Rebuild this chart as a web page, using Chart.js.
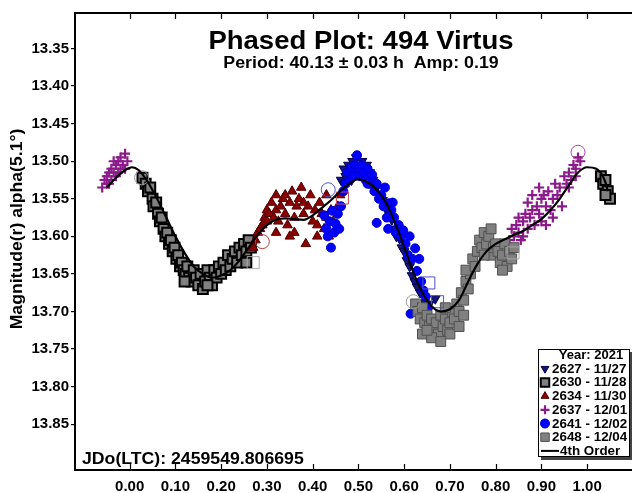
<!DOCTYPE html>
<html><head><meta charset="utf-8">
<script src="https://cdn.jsdelivr.net/npm/chart.js@4.4.1/dist/chart.umd.min.js"></script>
<style>html,body{margin:0;padding:0;background:#fff}canvas{display:block}</style>
</head><body>
<canvas id="c" width="632" height="493"></canvas>
<script>
// ---------- text ----------
const titleText = 'Phased Plot: 494 Virtus';
const subtitleText = 'Period: 40.13 \u00b1 0.03 h  Amp: 0.19';
const epochText = 'JDo(LTC): 2459549.806695';
const yAxisTitle = 'Magnitude(r) alpha(5.1\u00b0)';
const legendTitle = 'Year: 2021';
const seriesNames = ['2627 - 11/27','2630 - 11/28','2634 - 11/30','2637 - 12/01','2641 - 12/02','2648 - 12/04'];
const fitName = '4th Order';
const xTickLabels = ['0.00','0.10','0.20','0.30','0.40','0.50','0.60','0.70','0.80','0.90','1.00'];
const yTickLabels = ['13.35','13.40','13.45','13.50','13.55','13.60','13.65','13.70','13.75','13.80','13.85'];

// ---------- data: [phase, magnitude] ----------
const s2627 = [[0.462,13.525],[0.468,13.51],[0.472,13.52],[0.478,13.505],[0.482,13.515],[0.487,13.5],[0.49,13.512],[0.495,13.495],[0.5,13.505],[0.503,13.515],[0.508,13.5],[0.512,13.51],[0.518,13.505],[0.525,13.515],[0.532,13.525],[0.54,13.535],[0.547,13.545],[0.553,13.552],[0.56,13.563],[0.567,13.57],[0.573,13.578],[0.578,13.59],[0.583,13.6],[0.59,13.603],[0.595,13.615],[0.6,13.62],[0.606,13.632],[0.612,13.64],[0.617,13.652],[0.623,13.66],[0.628,13.667],[0.635,13.675],[0.645,13.688],[0.655,13.69],[0.668,13.683],[0.65,13.728],[0.47,13.53],[0.485,13.525]];
const s2630 = [[0.028,13.522],[0.035,13.53],[0.04,13.54],[0.045,13.535],[0.05,13.55],[0.052,13.56],[0.058,13.555],[0.062,13.57],[0.066,13.58],[0.07,13.575],[0.074,13.59],[0.078,13.6],[0.082,13.595],[0.086,13.61],[0.09,13.605],[0.094,13.62],[0.098,13.615],[0.102,13.63],[0.106,13.625],[0.11,13.64],[0.114,13.635],[0.118,13.645],[0.122,13.65],[0.126,13.64],[0.13,13.655],[0.135,13.66],[0.14,13.645],[0.145,13.655],[0.15,13.665],[0.155,13.65],[0.16,13.67],[0.165,13.66],[0.17,13.645],[0.175,13.655],[0.18,13.665],[0.185,13.645],[0.19,13.655],[0.195,13.64],[0.2,13.65],[0.205,13.635],[0.21,13.645],[0.215,13.625],[0.22,13.64],[0.225,13.63],[0.23,13.62],[0.235,13.635],[0.24,13.615],[0.245,13.625],[0.25,13.61],[0.255,13.62],[0.26,13.605],[0.265,13.615],[0.12,13.66],[0.17,13.665],[0.255,13.635],[1.03,13.52],[1.035,13.53],[1.04,13.525],[1.045,13.54],[1.05,13.55],[1.04,13.545]];
const s2634 = [[0.275,13.605],[0.28,13.595],[0.285,13.59],[0.29,13.585],[0.295,13.575],[0.3,13.58],[0.3,13.565],[0.305,13.57],[0.31,13.555],[0.315,13.575],[0.32,13.565],[0.32,13.545],[0.325,13.58],[0.33,13.56],[0.335,13.55],[0.34,13.57],[0.34,13.545],[0.345,13.585],[0.35,13.555],[0.355,13.54],[0.36,13.575],[0.36,13.595],[0.365,13.56],[0.37,13.55],[0.375,13.535],[0.38,13.57],[0.385,13.61],[0.39,13.56],[0.395,13.545],[0.4,13.58],[0.405,13.565],[0.41,13.6],[0.41,13.585],[0.415,13.555],[0.42,13.57],[0.425,13.59],[0.43,13.545],[0.43,13.575],[0.435,13.6],[0.44,13.565],[0.445,13.58],[0.45,13.59],[0.455,13.56],[0.46,13.545],[0.38,13.555],[0.35,13.6],[0.32,13.595],[0.27,13.615]];
const s2637 = [[-0.06,13.535],[-0.055,13.525],[-0.05,13.53],[-0.05,13.52],[-0.045,13.515],[-0.04,13.525],[-0.04,13.51],[-0.035,13.515],[-0.03,13.505],[-0.03,13.52],[-0.025,13.5],[-0.02,13.51],[-0.02,13.495],[-0.015,13.505],[-0.01,13.49],[-0.01,13.51],[-0.005,13.5],[-0.045,13.53],[-0.035,13.5],[-0.025,13.515],[0.83,13.605],[0.835,13.59],[0.84,13.6],[0.845,13.585],[0.85,13.595],[0.85,13.575],[0.855,13.605],[0.86,13.58],[0.865,13.57],[0.87,13.59],[0.87,13.555],[0.875,13.575],[0.88,13.565],[0.88,13.545],[0.885,13.585],[0.89,13.56],[0.895,13.57],[0.9,13.55],[0.9,13.58],[0.905,13.545],[0.91,13.56],[0.915,13.54],[0.92,13.565],[0.925,13.55],[0.93,13.53],[0.935,13.545],[0.94,13.535],[0.945,13.56],[0.95,13.52],[0.955,13.53],[0.96,13.515],[0.965,13.525],[0.97,13.505],[0.975,13.51],[0.98,13.495],[0.985,13.5],[0.975,13.52],[0.96,13.535],[0.91,13.585],[0.86,13.6],[0.895,13.535],[0.925,13.575]];
const s2641 = [[0.425,13.572],[0.43,13.59],[0.433,13.6],[0.437,13.58],[0.44,13.615],[0.443,13.566],[0.447,13.595],[0.45,13.583],[0.455,13.57],[0.458,13.59],[0.462,13.56],[0.467,13.54],[0.472,13.53],[0.476,13.515],[0.48,13.525],[0.484,13.508],[0.488,13.52],[0.492,13.505],[0.497,13.492],[0.5,13.51],[0.504,13.52],[0.508,13.505],[0.512,13.515],[0.516,13.525],[0.52,13.51],[0.525,13.53],[0.53,13.518],[0.535,13.54],[0.54,13.53],[0.545,13.55],[0.55,13.545],[0.555,13.56],[0.558,13.535],[0.562,13.575],[0.567,13.556],[0.54,13.582],[0.572,13.565],[0.578,13.575],[0.582,13.595],[0.588,13.585],[0.593,13.6],[0.598,13.592],[0.603,13.61],[0.608,13.625],[0.612,13.6],[0.618,13.63],[0.624,13.616],[0.628,13.646],[0.633,13.63],[0.637,13.66],[0.642,13.672],[0.647,13.68],[0.652,13.695],[0.614,13.703],[0.565,13.59],[0.52,13.53],[0.575,13.555]];
const s2648 = [[0.625,13.69],[0.63,13.7],[0.635,13.71],[0.64,13.695],[0.645,13.715],[0.65,13.705],[0.655,13.72],[0.66,13.71],[0.665,13.725],[0.67,13.715],[0.675,13.73],[0.68,13.705],[0.685,13.72],[0.69,13.71],[0.695,13.725],[0.7,13.715],[0.705,13.7],[0.71,13.71],[0.715,13.69],[0.72,13.7],[0.725,13.675],[0.73,13.685],[0.735,13.66],[0.74,13.67],[0.745,13.65],[0.735,13.645],[0.75,13.63],[0.755,13.64],[0.76,13.62],[0.765,13.605],[0.77,13.615],[0.775,13.595],[0.78,13.61],[0.785,13.6],[0.79,13.625],[0.795,13.615],[0.8,13.61],[0.805,13.62],[0.81,13.635],[0.815,13.625],[0.82,13.61],[0.825,13.64],[0.83,13.62],[0.835,13.63],[0.84,13.615],[0.64,13.73],[0.66,13.735],[0.69,13.695],[0.7,13.73],[0.72,13.72],[0.73,13.705],[0.68,13.74],[0.65,13.725],[0.775,13.625],[0.79,13.59],[0.815,13.645]];
const fitCurve = [[-0.05,13.535],[-0.03,13.522],[-0.01,13.512],[0.005,13.508],[0.02,13.512],[0.04,13.528],[0.06,13.55],[0.08,13.575],[0.1,13.6],[0.12,13.622],[0.14,13.64],[0.16,13.65],[0.18,13.655],[0.2,13.652],[0.22,13.645],[0.24,13.632],[0.26,13.615],[0.28,13.598],[0.3,13.585],[0.32,13.578],[0.34,13.576],[0.36,13.577],[0.38,13.578],[0.4,13.572],[0.42,13.562],[0.44,13.552],[0.46,13.54],[0.48,13.53],[0.5,13.524],[0.52,13.528],[0.54,13.538],[0.56,13.555],[0.58,13.582],[0.6,13.614],[0.62,13.648],[0.64,13.675],[0.66,13.693],[0.68,13.7],[0.7,13.697],[0.72,13.685],[0.74,13.66],[0.76,13.637],[0.78,13.62],[0.8,13.61],[0.82,13.604],[0.84,13.598],[0.86,13.593],[0.88,13.585],[0.9,13.577],[0.92,13.565],[0.94,13.55],[0.96,13.532],[0.98,13.515],[1.0,13.508],[1.02,13.51],[1.04,13.528],[1.045,13.54]];
const hollowCircles = [[0.026,13.522],[0.29,13.607],[0.434,13.538],[0.62,13.687],[0.98,13.488]];
const hollowSquares = [[0.27,13.635],[0.465,13.549],[0.654,13.662],[0.673,13.687],[0.838,13.622]];

const pts = a => a.map(p => ({x:p[0], y:p[1]}));
const FONT = '"Liberation Sans", Arial, sans-serif';

const styles = [
  {pointStyle:'triangle', rotation:180, backgroundColor:'#14147a', borderColor:'#000050', borderWidth:1, pointRadius:5.5},
  {pointStyle:'rect', rotation:0, backgroundColor:'#808080', borderColor:'#000000', borderWidth:2, pointRadius:7},
  {pointStyle:'triangle', rotation:0, backgroundColor:'#8b0000', borderColor:'#500000', borderWidth:1, pointRadius:5.5},
  {pointStyle:'cross', rotation:0, backgroundColor:'#8b1a8b', borderColor:'#8b1a8b', borderWidth:2.2, pointRadius:5},
  {pointStyle:'circle', rotation:0, backgroundColor:'#0000ff', borderColor:'#0000c8', borderWidth:1, pointRadius:4.5},
  {pointStyle:'rect', rotation:0, backgroundColor:'#808080', borderColor:'#505050', borderWidth:1, pointRadius:7}
];
const seriesData = [s2627, s2630, s2634, s2637, s2641, s2648];

const datasets = seriesData.map((d,i) => ({
  label: seriesNames[i], data: pts(d), showLine:false, order: 10 - i,
  pointStyle: styles[i].pointStyle, rotation: styles[i].rotation,
  backgroundColor: styles[i].backgroundColor, borderColor: styles[i].borderColor,
  borderWidth: styles[i].borderWidth, pointRadius: styles[i].pointRadius, pointHoverRadius: styles[i].pointRadius
}));
datasets.push({label:'hc', data:pts(hollowCircles), showLine:false, order:2, pointStyle:'circle', pointRadius:7,
  backgroundColor:'rgba(0,0,0,0)', borderColor:['#999999','#b04040','#5050d0','#999999','#b040b0'], borderWidth:1});
datasets.push({label:'hs', data:pts(hollowSquares), showLine:false, order:2, pointStyle:'rect', pointRadius:8.5,
  backgroundColor:'rgba(0,0,0,0)', borderColor:['#aaaaaa','#c05050','#5050d0','#5050d0','#aaaaaa'], borderWidth:1});
datasets.push({label: fitName, data: pts(fitCurve), showLine:true, order:0, borderColor:'#000', borderWidth:2.2,
  pointRadius:0, tension:0.4, cubicInterpolationMode:'monotone', fill:false});

function drawMarker(ctx, st, x, y, r) {
  ctx.save();
  ctx.fillStyle = st.backgroundColor; ctx.strokeStyle = st.borderColor; ctx.lineWidth = st.borderWidth;
  ctx.beginPath();
  if (st.pointStyle === 'circle') { ctx.arc(x, y, r, 0, Math.PI*2); ctx.fill(); ctx.stroke(); }
  else if (st.pointStyle === 'rect') { const s = r*Math.SQRT1_2; ctx.rect(x-s, y-s, 2*s, 2*s); ctx.fill(); ctx.stroke(); }
  else if (st.pointStyle === 'triangle') {
    const d = st.rotation ? 1 : -1;
    ctx.moveTo(x, y + d*r); ctx.lineTo(x - r*0.866, y - d*r*0.5); ctx.lineTo(x + r*0.866, y - d*r*0.5); ctx.closePath(); ctx.fill(); ctx.stroke();
  } else if (st.pointStyle === 'cross') { ctx.moveTo(x-r, y); ctx.lineTo(x+r, y); ctx.moveTo(x, y-r); ctx.lineTo(x, y+r); ctx.stroke(); }
  ctx.restore();
}

function stretchedText(ctx, text, x, y, sx) {
  ctx.save(); ctx.translate(x, y); ctx.scale(sx, 1); ctx.fillText(text, 0, 0); ctx.restore();
}

const overlay = {
  id: 'overlay',
  afterDraw(chart) {
    const {ctx, chartArea: a, scales: {x}} = chart;
    ctx.save();
    ctx.strokeStyle = '#000'; ctx.lineWidth = 2;
    ctx.beginPath();
    ctx.moveTo(a.right + 2, a.top); ctx.lineTo(a.left, a.top); ctx.lineTo(a.left, a.bottom); ctx.lineTo(a.right + 2, a.bottom);
    ctx.stroke();
    ctx.lineWidth = 1.2;
    x.ticks.forEach(t => {
      const px = Math.round(x.getPixelForValue(t.value)) + 0.5;
      ctx.beginPath();
      ctx.moveTo(px, a.bottom); ctx.lineTo(px, a.bottom - 6);
      ctx.moveTo(px, a.top); ctx.lineTo(px, a.top + 6);
      ctx.stroke();
    });
    ctx.fillStyle = '#000';
    const cx = 361;
    ctx.textAlign = 'center'; ctx.textBaseline = 'middle';
    ctx.font = 'bold 25px ' + FONT; stretchedText(ctx, titleText, cx, 42, 1.1);
    ctx.font = 'bold 16px ' + FONT; stretchedText(ctx, subtitleText, cx, 64, 1.11);
    ctx.textAlign = 'left';
    ctx.font = 'bold 17px ' + FONT; stretchedText(ctx, epochText, 82, 459, 1.04);
    ctx.save(); ctx.translate(18, 229); ctx.rotate(-Math.PI/2); ctx.scale(1.1, 1);
    ctx.textAlign = 'center'; ctx.font = 'bold 16px ' + FONT; ctx.fillText(yAxisTitle, 0, 0); ctx.restore();
    const L = 538, T = 349, R = 630, B = 457;
    ctx.fillStyle = '#444'; ctx.fillRect(L + 3, T + 3, R - L, B - T);
    ctx.fillStyle = '#fff'; ctx.fillRect(L, T, R - L, B - T);
    ctx.strokeStyle = '#000'; ctx.lineWidth = 1; ctx.strokeRect(L + 0.5, T + 0.5, R - L - 1, B - T - 1);
    ctx.fillStyle = '#000'; ctx.font = 'bold 13px ' + FONT;
    ctx.textAlign = 'center'; ctx.fillText(legendTitle, 591, 355);
    ctx.textAlign = 'left';
    const rowH = 13.7;
    seriesNames.forEach((n, i) => {
      const yy = 355 + rowH * (i + 1);
      const st = styles[i];
      drawMarker(ctx, st, 545, yy, st.pointStyle === 'rect' ? 6 : 4.5);
      ctx.fillStyle = '#000'; stretchedText(ctx, n, 552, yy + 0.5, 1.03);
    });
    const yf = 355 + rowH * 7;
    ctx.strokeStyle = '#000'; ctx.lineWidth = 2;
    ctx.beginPath(); ctx.moveTo(541, yf); ctx.lineTo(559, yf); ctx.stroke();
    stretchedText(ctx, fitName, 560, yf + 0.5, 1.03);
    ctx.restore();
  }
};

const xTickValues = xTickLabels.map(Number);
const yTickValues = yTickLabels.map(Number);

new Chart(document.getElementById('c'), {
  type: 'scatter',
  data: { datasets },
  options: {
    responsive: false, animation: false, devicePixelRatio: 1,
    layout: { autoPadding: false, padding: { top: 13, right: 0, left: 0, bottom: 0 } },
    plugins: { legend: { display: false }, tooltip: { enabled: false } },
    scales: {
      x: {
        type: 'linear', min: -0.1195, max: 1.098,
        afterBuildTicks: s => { s.ticks = xTickValues.map(v => ({ value: v })); },
        afterFit: s => { s.height = 23; s.paddingLeft = 0; s.paddingRight = 0; },
        grid: { display: false, drawTicks: false }, border: { display: false },
        ticks: { color: '#000', padding: 8, maxRotation: 0, autoSkip: false,
          font: { family: FONT, size: 15, weight: 'bold' },
          callback: v => { const i = xTickValues.findIndex(t => Math.abs(t - v) < 1e-6); return i >= 0 ? xTickLabels[i] : ''; } }
      },
      y: {
        type: 'linear', reverse: true, min: 13.3027, max: 13.911,
        afterBuildTicks: s => { s.ticks = yTickValues.map(v => ({ value: v })); },
        afterFit: s => { s.width = 75; s.paddingTop = 0; s.paddingBottom = 0; },
        grid: { display: true, drawOnChartArea: false, drawTicks: true, tickLength: 4, color: '#000', lineWidth: 1.2 },
        border: { display: false },
        ticks: { color: '#000', padding: 2, autoSkip: false,
          font: { family: FONT, size: 15, weight: 'bold' },
          callback: v => { const i = yTickValues.findIndex(t => Math.abs(t - v) < 1e-6); return i >= 0 ? yTickLabels[i] : ''; } }
      }
    }
  },
  plugins: [overlay]
});
</script>
</body></html>
